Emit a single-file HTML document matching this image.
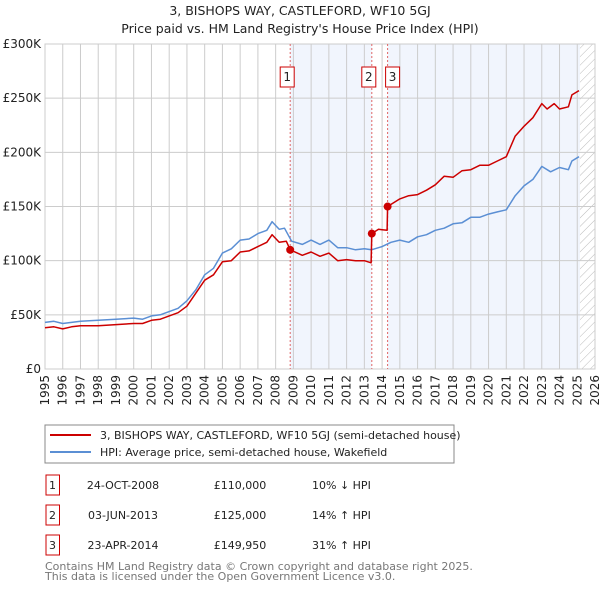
<!DOCTYPE html>
<html><head><meta charset="utf-8"><style>
body{margin:0;background:#fff;font-family:"DejaVu Sans","Liberation Sans",sans-serif;}
svg text{font-family:"DejaVu Sans","Liberation Sans",sans-serif;}
</style></head><body>
<svg id="c" width="600" height="590" xmlns="http://www.w3.org/2000/svg">
<defs><pattern id="hatch" width="6" height="6" patternUnits="userSpaceOnUse" patternTransform="rotate(45)"><line x1="0" y1="0" x2="0" y2="6" stroke="#bbb" stroke-width="1"/></pattern></defs>
<text x="300" y="15" text-anchor="middle" font-size="12.5" fill="#222">3, BISHOPS WAY, CASTLEFORD, WF10 5GJ</text>
<text x="300" y="33" text-anchor="middle" font-size="12.5" fill="#222">Price paid vs. HM Land Registry's House Price Index (HPI)</text>
<g id="plot"></g>
<rect x="45" y="425" width="409" height="38" fill="#fff" stroke="#888"/>
<line x1="50" y1="435" x2="91" y2="435" stroke="#cc0000" stroke-width="2"/>
<text x="100" y="439" font-size="11" fill="#222">3, BISHOPS WAY, CASTLEFORD, WF10 5GJ (semi-detached house)</text>
<line x1="50" y1="452" x2="91" y2="452" stroke="#5b8fd4" stroke-width="2"/>
<text x="100" y="456" font-size="11" fill="#222">HPI: Average price, semi-detached house, Wakefield</text>
<g id="tbl"></g>
<text x="45" y="570" font-size="11" fill="#777">Contains HM Land Registry data © Crown copyright and database right 2025.</text>
<text x="45" y="580" font-size="11" fill="#777">This data is licensed under the Open Government Licence v3.0.</text>
</svg>
<script>
const hpiYears=[1995,1995.5,1996,1996.5,1997,1998,1999,2000,2000.5,2001,2001.5,2002,2002.5,2003,2003.5,2004,2004.5,2005,2005.5,2006,2006.5,2007,2007.5,2007.8,2008.2,2008.5,2008.9,2009.5,2010,2010.5,2011,2011.5,2012,2012.5,2013,2013.4,2014,2014.5,2015,2015.5,2016,2016.5,2017,2017.5,2018,2018.5,2019,2019.5,2020,2020.5,2021,2021.5,2022,2022.5,2023,2023.5,2024,2024.5,2024.7,2025.1];
const hpiValues=[43,44,42,43,44,45,46,47,46,49,50,53,56,63,73,87,93,107,111,119,120,125,128,136,129,130,118,115,119,115,119,112,112,110,111,110,113,117,119,117,122,124,128,130,134,135,140,140,143,145,147,160,169,175,187,182,186,184,192,196];
const propYears=[1995,1995.5,1996,1996.5,1997,1998,1999,2000,2000.5,2001,2001.5,2002,2002.5,2003,2003.5,2004,2004.5,2005,2005.5,2006,2006.5,2007,2007.5,2007.8,2008.2,2008.6,2008.82,2009.5,2010,2010.5,2011,2011.5,2012,2012.5,2013,2013.38,2013.42,2013.8,2014.28,2014.31,2015,2015.5,2016,2016.5,2017,2017.5,2018,2018.5,2019,2019.5,2020,2020.5,2021,2021.5,2022,2022.5,2023,2023.3,2023.7,2024,2024.5,2024.7,2025.1];
const propValues=[38,39,37,39,40,40,41,42,42,45,46,49,52,58,70,82,87,99,100,108,109,113,117,124,117,118,110,105,108,104,107,100,101,100,100,98,125,129,128,150,157,160,161,165,170,178,177,183,184,188,188,192,196,215,224,232,245,240,245,240,242,253,257];
const sales=[{n:"1",t:2008.82,v:110,d:"24-OCT-2008",p:"£110,000",h:"10% ↓ HPI"},{n:"2",t:2013.42,v:125,d:"03-JUN-2013",p:"£125,000",h:"14% ↑ HPI"},{n:"3",t:2014.31,v:149.95,d:"23-APR-2014",p:"£149,950",h:"31% ↑ HPI"}];
const yTicks=[0,50,100,150,200,250,300];
const yLabels=["£0","£50K","£100K","£150K","£200K","£250K","£300K"];
const X0=45,X1=595,Y0=369,Y1=44;
const sx=t=>X0+(t-1995)/31*(X1-X0);
const sy=v=>Y0-v/300*(Y0-Y1);
const NS="http://www.w3.org/2000/svg";
const g=document.getElementById('plot');
function mk(tag,a,parent){const e=document.createElementNS(NS,tag);for(const k in a)e.setAttribute(k,a[k]);(parent||g).appendChild(e);return e;}
// shading
let r=mk('rect',{x:sx(sales[0].t),y:Y1,width:sx(sales[1].t)-sx(sales[0].t),height:Y0-Y1,fill:'#eef3fc',opacity:0.8});


r=mk('rect',{x:sx(sales[2].t),y:Y1,width:sx(2025.15)-sx(sales[2].t),height:Y0-Y1,fill:'#eef3fc',opacity:0.8});


r=mk('rect',{x:sx(2025.15),y:Y1,width:X1-sx(2025.15),height:Y0-Y1,fill:'url(#hatch)'});


for(let y=1995;y<=2026;y++){const l=mk('line',{x1:sx(y),x2:sx(y),y1:Y1,y2:Y0,stroke:'#ccc','stroke-width':1});


const t=mk('text',{x:0,y:0,'font-size':12,fill:'#222','text-anchor':'end',transform:`translate(${sx(y)+4},${Y0+6}) rotate(-90)`});t.textContent=y;

}
yTicks.forEach((v,i)=>{const l=mk('line',{x1:X0,x2:X1,y1:sy(v),y2:sy(v),stroke:'#ccc','stroke-width':1});


const t=mk('text',{x:X0-4,y:sy(v)+4,'font-size':12,fill:'#222','text-anchor':'end'});t.textContent=yLabels[i];

});
const ax=mk('rect',{x:X0,y:Y1,width:X1-X0,height:Y0-Y1,fill:'none',stroke:'#ccc'});


sales.forEach(s=>{const l=mk('line',{x1:sx(s.t),x2:sx(s.t),y1:Y1,y2:Y0,stroke:'#e06666','stroke-width':1,'stroke-dasharray':'2,2'});

});
function path(xs,vs,col,name){const d=xs.map((t,i)=>(i?'L':'M')+sx(t).toFixed(1)+','+sy(vs[i]).toFixed(1)).join('');const p=mk('path',{d:d,fill:'none',stroke:col,'stroke-width':1.5,'stroke-linejoin':'round'});

}
path(hpiYears,hpiValues,'#5b8fd4','hpi-line');
path(propYears,propValues,'#cc0000','property-price-line');
const labelX=[-3,-3,5];
sales.forEach((s,i)=>{const c=mk('circle',{cx:sx(s.t),cy:sy(s.v),r:4,fill:'#cc0000'});


const bx=sx(s.t)+labelX[i]-7;const b=mk('rect',{x:bx,y:67,width:14,height:20,fill:'#fff',stroke:'#cc0000'});


const t=mk('text',{x:bx+7,y:81,'font-size':12,fill:'#222','text-anchor':'middle'});t.textContent=s.n;

});
const tb=document.getElementById('tbl');
const rowY=[485,515,545];
sales.forEach((s,i)=>{const y=rowY[i];
const b=mk('rect',{x:46,y:y-10,width:13.5,height:20,fill:'#fff',stroke:'#cc0000'},tb);


const vals=[[52.5,s.n,'middle'],[123,s.d,'middle'],[240,s.p,'middle'],[312,s.h,'start']];
const nm=['table-index','table-date','table-price','table-hpi-change'];
vals.forEach((v,j)=>{const t=mk('text',{x:v[0],y:y+4,'font-size':11,fill:'#222','text-anchor':v[2]},tb);t.textContent=v[1];

});});
</script>
</body></html>
